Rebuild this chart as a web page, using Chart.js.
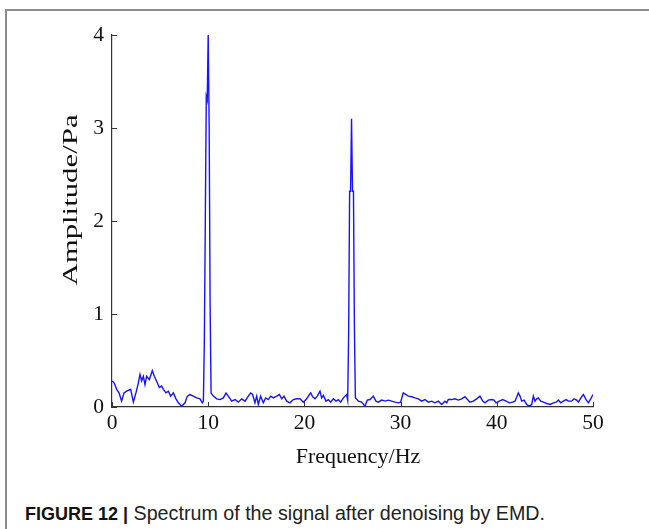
<!DOCTYPE html>
<html>
<head>
<meta charset="utf-8">
<script src="https://cdn.jsdelivr.net/npm/chart.js@4.4.1/dist/chart.umd.min.js"></script>
<style>
  html, body { margin: 0; padding: 0; background: #fff; }
  body { width: 649px; height: 529px; position: relative; overflow: hidden; }
  #frame { position: absolute; left: 5px; top: 9px; width: 700px; height: 600px;
           border-top: 2px solid #8c8c8c; border-left: 2px solid #8c8c8c; }
  #c { position: absolute; left: 0; top: 0; }
  #caption { position: absolute; left: 25px; top: 501px; font-family: "Liberation Sans", Arial, sans-serif;
             color: #222; white-space: nowrap; line-height: 24px; }
  #caption b { font-weight: bold; color: #111; font-size: 18px; }
  #caption span { font-size: 19.7px; }
</style>
</head>
<body>
<div id="frame"></div>
<canvas id="c" width="649" height="470"></canvas>
<div id="caption"><b>FIGURE 12 |</b><span> Spectrum of the signal after denoising by EMD.</span></div>
<script>
// Values
const freqHz = [
  0.03, 0.21, 0.49, 0.73, 1.0, 1.25, 1.52, 1.94, 2.22, 2.49, 2.74, 2.91, 3.08, 3.26, 3.43, 3.6, 3.88,
  4.19, 4.4, 4.71, 4.92, 5.16, 5.34, 5.61, 5.86, 6.1, 6.38, 6.65, 6.9, 7.24, 7.59, 7.83, 8.11, 8.45,
  8.8, 9.15, 9.39, 9.5,
  9.6, 9.7, 9.8, 9.9, 10.0, 10.1, 10.2, 10.3,
  10.54, 10.88, 11.23, 11.57, 11.85, 12.09, 12.44, 12.79, 13.13, 13.48, 13.83, 14.17, 14.41, 14.62,
  14.86, 15.04, 15.21, 15.45, 15.73, 15.97, 16.25, 16.49, 16.77, 17.12, 17.4, 17.64, 17.88, 18.16,
  18.5, 18.85, 19.2, 19.54, 19.89, 20.24, 20.51, 20.65, 20.86, 21.1, 21.34, 21.62, 21.79, 21.97,
  22.25, 22.49, 22.73, 23.01, 23.29, 23.53, 23.77, 24.05, 24.22, 24.39, 24.5,
  24.6, 24.7, 24.8, 24.9, 25.0, 25.1, 25.2, 25.3,
  25.61, 25.95, 26.29, 26.54, 26.82, 27.16, 27.44, 27.68, 28.03, 28.38, 28.72, 29.07, 29.41, 29.76,
  30.0, 30.28, 30.56, 30.8, 31.15, 31.49, 31.84, 32.19, 32.53, 32.88, 33.23, 33.57, 33.92, 34.27,
  34.61, 34.79, 34.96, 35.31, 35.65, 36.0, 36.35, 36.69, 37.21, 37.56, 37.91, 38.25, 38.53, 38.77,
  39.12, 39.46, 39.71, 39.92, 40.26, 40.61, 40.96, 41.3, 41.65, 41.89, 42.24, 42.41, 42.59, 42.83,
  43.11, 43.38, 43.63, 43.8, 43.97, 44.15, 44.32, 44.56, 44.84, 45.19, 45.53, 45.88, 46.16, 46.4,
  46.64, 46.92, 47.2, 47.44, 47.78, 48.03, 48.3, 48.48, 48.82, 49.0, 49.28, 49.52, 49.76, 50.0
];
const amplitudePa = [
  0.28, 0.26, 0.19, 0.152, 0.063, 0.152, 0.17, 0.19, 0.052, 0.152, 0.26, 0.35, 0.28, 0.33, 0.24, 0.33, 0.295,
  0.39, 0.33, 0.26, 0.21, 0.225, 0.19, 0.152, 0.17, 0.117, 0.152, 0.088, 0.045, 0.009, 0.045, 0.117, 0.134, 0.117,
  0.098, 0.088, 0.045, 0.063,
  0.71, 2.02, 3.34, 3.30, 4.0, 3.02, 1.09, 0.15,
  0.117, 0.088, 0.08, 0.098, 0.15, 0.117, 0.063, 0.08, 0.052, 0.088, 0.063, 0.117, 0.15, 0.134,
  0.045, 0.117, 0.027, 0.117, 0.045, 0.098, 0.08, 0.117, 0.098, 0.117, 0.134, 0.088, 0.117, 0.063,
  0.045, 0.08, 0.088, 0.088, 0.052, 0.088, 0.134, 0.152, 0.11, 0.088, 0.117, 0.17, 0.098, 0.124,
  0.063, 0.08, 0.052, 0.088, 0.063, 0.08, 0.052, 0.098, 0.117, 0.134, 0.074,
  0.80, 2.32, 2.32, 3.10, 2.32, 2.32, 0.84, 0.10,
  0.063, 0.052, 0.009, 0.074, 0.08, 0.117, 0.063, 0.052, 0.074, 0.063, 0.074, 0.063, 0.052, 0.045,
  0.052, 0.152, 0.134, 0.117, 0.11, 0.098, 0.088, 0.063, 0.08, 0.052, 0.063, 0.045, 0.063, 0.027,
  0.063, 0.045, 0.08, 0.08, 0.088, 0.074, 0.088, 0.11, 0.052, 0.063, 0.088, 0.117, 0.063, 0.045,
  0.074, 0.08, 0.074, 0.045, 0.063, 0.08, 0.063, 0.045, 0.052, 0.063, 0.152, 0.117, 0.063, 0.074,
  0.027, 0.009, 0.027, 0.117, 0.063, 0.088, 0.098, 0.063, 0.052, 0.038, 0.027, 0.045, 0.052, 0.074,
  0.045, 0.063, 0.08, 0.063, 0.063, 0.088, 0.074, 0.052, 0.11, 0.134, 0.08, 0.045, 0.088, 0.134
];
const xTicks = [0, 10, 20, 30, 40, 50];
const yTicks = [0, 1, 2, 3, 4];
const xLabel = "Frequency/Hz";
const yLabel = "Amplitude/Pa";

const points = freqHz.map((f, i) => ({ x: f, y: amplitudePa[i] }));

const SERIF = "'Liberation Serif', 'Times New Roman', serif";
Chart.defaults.font.family = SERIF;
Chart.defaults.color = "#111";

const innerTicks = {
  id: 'innerTicks',
  afterDraw(chart) {
    const ctx = chart.ctx, xs = chart.scales.x, ys = chart.scales.y;
    ctx.save();
    ctx.strokeStyle = '#333';
    ctx.lineWidth = 1;
    ctx.beginPath();
    xTicks.forEach(v => {
      const px = Math.round(xs.getPixelForValue(v)) + 0.5;
      ctx.moveTo(px, ys.bottom);
      ctx.lineTo(px, ys.bottom - 5);
    });
    yTicks.forEach(v => {
      const py = Math.round(ys.getPixelForValue(v)) + 0.5;
      ctx.moveTo(xs.left, py);
      ctx.lineTo(xs.left + 5, py);
    });
    ctx.stroke();
    ctx.fillStyle = '#111';
    ctx.textAlign = 'center';
    ctx.textBaseline = 'middle';
    // x axis title
    ctx.font = "22px " + SERIF;
    ctx.fillText(chart.options.scales.x.title.text, 358, 457);
    // y axis title, stretched along its length like the reference
    ctx.translate(71, 200);
    ctx.rotate(-Math.PI / 2);
    ctx.scale(1.4, 1);
    ctx.fillText(chart.options.scales.y.title.text, 0, 0);
    ctx.restore();
  }
};

new Chart(document.getElementById('c'), {
  type: 'line',
  data: { datasets: [{ data: points, borderColor: '#1414ff', borderWidth: 1.4, pointRadius: 0, tension: 0, fill: false }] },
  options: {
    responsive: false,
    animation: false,
    layout: { padding: { left: 0, top: 35, right: 56, bottom: 0 } },
    plugins: { legend: { display: false }, tooltip: { enabled: false } },
    scales: {
      x: {
        type: 'linear', min: 0, max: 50,
        afterBuildTicks: s => { s.ticks = xTicks.map(v => ({ value: v })); },
        afterFit: s => { s.height = 63; },
        grid: { display: false, drawTicks: false },
        border: { display: true, color: '#333', width: 1.2 },
        ticks: { font: { size: 21.5 }, padding: 3, maxRotation: 0, color: '#111' },
        title: { display: false, text: xLabel }
      },
      y: {
        type: 'linear', min: 0, max: 4,
        afterBuildTicks: s => { s.ticks = yTicks.map(v => ({ value: v })); },
        afterFit: s => { s.width = 112; },
        grid: { display: false, drawTicks: false },
        border: { display: true, color: '#333', width: 1.2 },
        ticks: { font: { size: 21.5 }, padding: 8, color: '#111' },
        title: { display: false, text: yLabel }
      }
    }
  },
  plugins: [innerTicks]
});
</script>
</body>
</html>
